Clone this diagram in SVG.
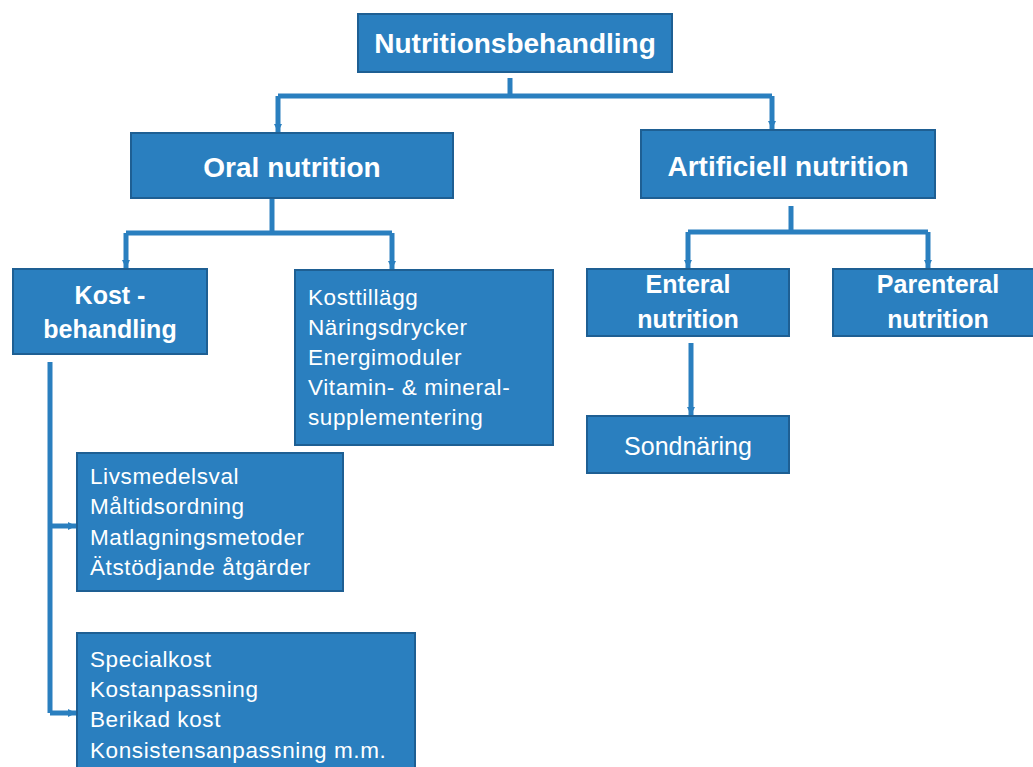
<svg xmlns="http://www.w3.org/2000/svg" width="1033" height="767" viewBox="0 0 1033 767">
<defs>
<style>
.box{fill:#2A7FBF;stroke:#1E5F93;stroke-width:2}
.h{font-family:"Liberation Sans",Arial,sans-serif;font-weight:bold;fill:#fff;text-anchor:middle}
.t{font-family:"Liberation Sans",Arial,sans-serif;font-size:22.5px;letter-spacing:0.6px;fill:#fff}
.c{fill:none;stroke:#2A7FBF;stroke-width:5}
</style>
<marker id="a" viewBox="0 0 8 8" refX="8" refY="4" markerWidth="1.6" markerHeight="1.6" orient="auto"><path d="M0,0 L8,4 L0,8 Z" fill="#2A7FBF"/></marker>
</defs>
<rect width="1033" height="767" fill="#fff"/>
<g id="connectors">
<path class="c" d="M510,78 V96"/>
<path class="c" d="M278,96 H772"/>
<path class="c" d="M278,96 V132" marker-end="url(#a)"/>
<path class="c" d="M772,96 V129" marker-end="url(#a)"/>
<path class="c" d="M272,199 V233"/>
<path class="c" d="M126,233 H392"/>
<path class="c" d="M126,233 V268" marker-end="url(#a)"/>
<path class="c" d="M392,233 V269" marker-end="url(#a)"/>
<path class="c" d="M791,206 V232"/>
<path class="c" d="M688,232 H928"/>
<path class="c" d="M688,232 V268" marker-end="url(#a)"/>
<path class="c" d="M928,232 V268" marker-end="url(#a)"/>
<path class="c" d="M691,343 V415" marker-end="url(#a)"/>
<path class="c" d="M50,362 V713"/>
<path class="c" d="M50,526 H76" marker-end="url(#a)"/>
<path class="c" d="M50,713 H76" marker-end="url(#a)"/>
</g>
<g id="n-top">
<rect class="box" x="358" y="14" width="314" height="58"/>
<text class="h" x="515" y="53" font-size="28">Nutritionsbehandling</text>
</g>
<g id="n-oral">
<rect class="box" x="131" y="133" width="322" height="65"/>
<text class="h" x="292" y="177" font-size="28">Oral nutrition</text>
</g>
<g id="n-artificiell">
<rect class="box" x="641" y="130" width="294" height="68"/>
<text class="h" x="788" y="176" font-size="28">Artificiell nutrition</text>
</g>
<g id="n-kost">
<rect class="box" x="13" y="269" width="194" height="85"/>
<text class="h" x="110" y="304" font-size="25">Kost -</text>
<text class="h" x="110" y="338" font-size="25">behandling</text>
</g>
<g id="n-kosttillagg">
<rect class="box" x="295" y="270" width="258" height="175"/>
<text class="t" x="308" y="305">Kosttillägg</text>
<text class="t" x="308" y="335">Näringsdrycker</text>
<text class="t" x="308" y="365">Energimoduler</text>
<text class="t" x="308" y="395">Vitamin- &amp; mineral-</text>
<text class="t" x="308" y="425">supplementering</text>
</g>
<g id="n-enteral">
<rect class="box" x="587" y="269" width="202" height="67"/>
<text class="h" x="688" y="293" font-size="25">Enteral</text>
<text class="h" x="688" y="328" font-size="25">nutrition</text>
</g>
<g id="n-parenteral">
<rect class="box" x="833" y="269" width="212" height="67"/>
<text class="h" x="938" y="293" font-size="25">Parenteral</text>
<text class="h" x="938" y="328" font-size="25">nutrition</text>
</g>
<g id="n-sondnaring">
<rect class="box" x="587" y="416" width="202" height="57"/>
<text x="688" y="455" font-family="'Liberation Sans',Arial,sans-serif" font-size="25" fill="#fff" text-anchor="middle">Sondnäring</text>
</g>
<g id="n-livsmedel">
<rect class="box" x="77" y="453" width="266" height="138"/>
<text class="t" x="90" y="484">Livsmedelsval</text>
<text class="t" x="90" y="514">Måltidsordning</text>
<text class="t" x="90" y="545">Matlagningsmetoder</text>
<text class="t" x="90" y="575">Ätstödjande åtgärder</text>
</g>
<g id="n-specialkost">
<rect class="box" x="77" y="633" width="338" height="140"/>
<text class="t" x="90" y="667">Specialkost</text>
<text class="t" x="90" y="697">Kostanpassning</text>
<text class="t" x="90" y="727">Berikad kost</text>
<text class="t" x="90" y="758">Konsistensanpassning m.m.</text>
</g>
</svg>
